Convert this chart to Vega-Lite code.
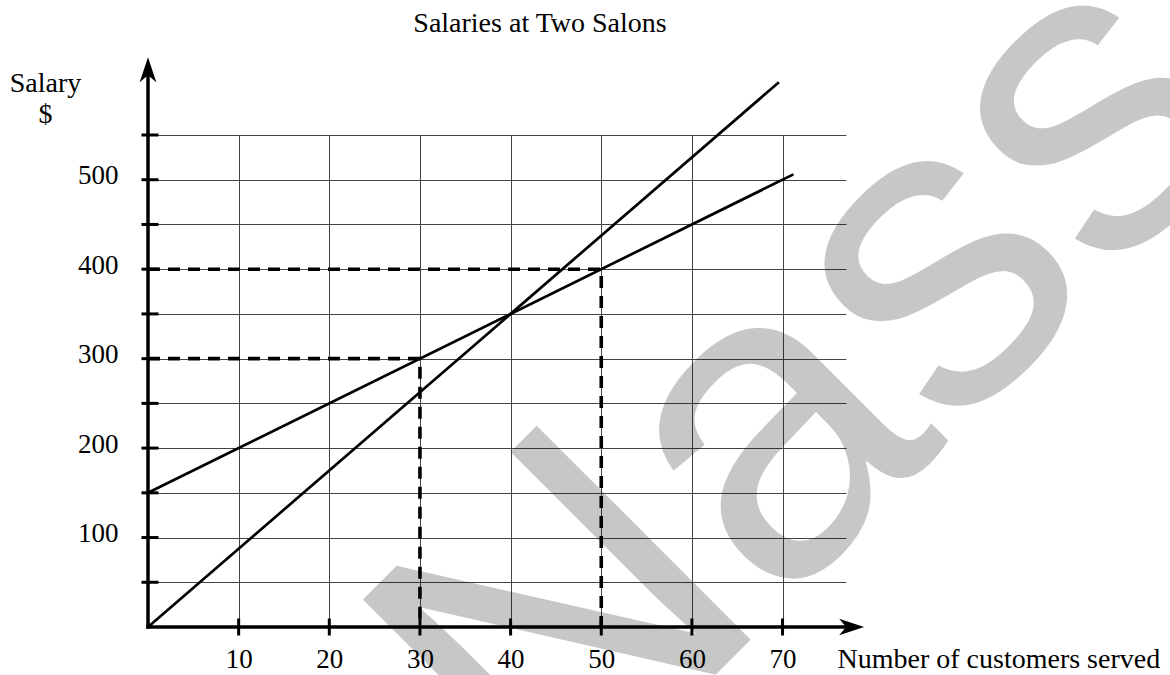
{
  "$schema": "https://vega.github.io/schema/vega-lite/v6.json",
  "width": 698,
  "height": 492,
  "autosize": "none",
  "padding": {"left": 148, "top": 135, "right": 324, "bottom": 48},
  "background": "white",
  "config": {"view": {"stroke": null}, "font": "Liberation Serif"},
  "title": {"text": "Salaries at Two Salons", "font": "Liberation Serif", "fontSize": 28, "fontWeight": "normal", "color": "black", "anchor": "middle", "frame": "group", "dx": 43, "baseline": "alphabetic", "offset": -179},
  "datasets": {
    "lines": [
      {"salon": "A", "customers": 0, "salary": 150},
      {"salon": "A", "customers": 71.2, "salary": 506},
      {"salon": "B", "customers": 0, "salary": 0},
      {"salon": "B", "customers": 69.6, "salary": 609}
    ],
    "guides": [
      {"g": "g300", "i": 1, "customers": 0, "salary": 300},
      {"g": "g300", "i": 2, "customers": 30, "salary": 300},
      {"g": "g300", "i": 3, "customers": 30, "salary": 0},
      {"g": "g400", "i": 1, "customers": 0, "salary": 400},
      {"g": "g400", "i": 2, "customers": 50, "salary": 400},
      {"g": "g400", "i": 3, "customers": 50, "salary": 0}
    ],
    "axislines": [
      {"customers": 0, "salary": 0, "customers2": 0, "salary2": 617},
      {"customers": 0, "salary": 0, "customers2": 77, "salary2": 0}
    ],
    "yticks": [
      {"customers": 0, "salary": 50}, {"customers": 0, "salary": 100}, {"customers": 0, "salary": 150},
      {"customers": 0, "salary": 200}, {"customers": 0, "salary": 250}, {"customers": 0, "salary": 300},
      {"customers": 0, "salary": 350}, {"customers": 0, "salary": 400}, {"customers": 0, "salary": 450},
      {"customers": 0, "salary": 500}, {"customers": 0, "salary": 550}
    ],
    "xticks": [
      {"customers": 10, "salary": 0}, {"customers": 20, "salary": 0}, {"customers": 30, "salary": 0},
      {"customers": 40, "salary": 0}, {"customers": 50, "salary": 0}, {"customers": 60, "salary": 0},
      {"customers": 70, "salary": 0}
    ],
    "arrows": [
      {"dir": "up", "customers": 0, "salary": 637},
      {"dir": "right", "customers": 79, "salary": 0}
    ],
    "watermark": [
      {"label": "Nass", "customers": 44.5, "salary": -237}
    ]
  },
  "layer": [
    {
      "data": {"name": "lines"},
      "mark": {"type": "line", "color": "black", "strokeWidth": 2.7},
      "encoding": {
        "x": {
          "field": "customers", "type": "quantitative",
          "scale": {"domain": [0, 77], "nice": false, "zero": false},
          "axis": {
            "title": "Number of customers served",
            "values": [10, 20, 30, 40, 50, 60, 70],
            "grid": true, "gridColor": "#444", "gridWidth": 1,
            "domain": false, "ticks": false,
            "labelFont": "Liberation Serif", "labelFontSize": 27, "labelColor": "black",
            "labelBaseline": "alphabetic", "labelPadding": 40, "labelFlush": false, "labelOverlap": false,
            "titleFont": "Liberation Serif", "titleFontSize": 28, "titleFontWeight": "normal", "titleColor": "black",
            "titleX": 689, "titleY": 40, "titleAlign": "left", "titleBaseline": "alphabetic"
          }
        },
        "y": {
          "field": "salary", "type": "quantitative",
          "scale": {"domain": [0, 550], "nice": false, "zero": false},
          "axis": {
            "title": ["Salary", "$"],
            "values": [50, 100, 150, 200, 250, 300, 350, 400, 450, 500, 550],
            "labelExpr": "datum.value % 100 === 0 ? datum.label : ''",
            "grid": true, "gridColor": "#444", "gridWidth": 1,
            "domain": false, "ticks": false,
            "labelFont": "Liberation Serif", "labelFontSize": 27, "labelColor": "black",
            "labelAlign": "right", "labelBaseline": "alphabetic", "labelPadding": 30, "labelOffset": 4,
            "labelFlush": false, "labelOverlap": false,
            "titleFont": "Liberation Serif", "titleFontSize": 28, "titleFontWeight": "normal", "titleColor": "black",
            "titleAngle": 0, "titleX": -103, "titleY": -44, "titleAlign": "center", "titleBaseline": "alphabetic",
            "titleLineHeight": 31
          }
        },
        "detail": {"field": "salon"}
      }
    },
    {
      "data": {"name": "guides"},
      "mark": {"type": "line", "color": "black", "strokeWidth": 3.6, "strokeDash": [12, 8]},
      "encoding": {
        "x": {"field": "customers", "type": "quantitative"},
        "y": {"field": "salary", "type": "quantitative"},
        "detail": {"field": "g"},
        "order": {"field": "i"}
      }
    },
    {
      "data": {"name": "axislines"},
      "mark": {"type": "rule", "color": "black", "strokeWidth": 3.5, "strokeCap": "square"},
      "encoding": {
        "x": {"field": "customers", "type": "quantitative"},
        "y": {"field": "salary", "type": "quantitative"},
        "x2": {"field": "customers2"},
        "y2": {"field": "salary2"}
      }
    },
    {
      "data": {"name": "yticks"},
      "mark": {"type": "tick", "orient": "horizontal", "size": 17, "thickness": 3, "color": "black", "opacity": 1, "xOffset": 2},
      "encoding": {
        "x": {"field": "customers", "type": "quantitative"},
        "y": {"field": "salary", "type": "quantitative"}
      }
    },
    {
      "data": {"name": "xticks"},
      "mark": {"type": "tick", "orient": "vertical", "size": 17, "thickness": 3, "color": "black", "opacity": 1},
      "encoding": {
        "x": {"field": "customers", "type": "quantitative"},
        "y": {"field": "salary", "type": "quantitative"}
      }
    },
    {
      "data": {"name": "arrows"},
      "mark": {"type": "point", "filled": true, "color": "black", "opacity": 1, "size": 772, "strokeWidth": 0},
      "encoding": {
        "x": {"field": "customers", "type": "quantitative"},
        "y": {"field": "salary", "type": "quantitative"},
        "shape": {
          "field": "dir", "type": "nominal", "legend": null,
          "scale": {"domain": ["up", "right"], "range": ["M0,0L0.6,1.8L0,1.3L-0.6,1.8Z", "M0,0L-1.8,-0.6L-1.3,0L-1.8,0.6Z"]}
        }
      }
    },
    {
      "data": {"name": "watermark"},
      "mark": {"type": "text", "font": "Liberation Sans", "fontSize": 440, "angle": -45, "align": "left", "baseline": "alphabetic", "color": "black", "opacity": 0.216},
      "encoding": {
        "x": {"field": "customers", "type": "quantitative"},
        "y": {"field": "salary", "type": "quantitative"},
        "text": {"field": "label"}
      }
    }
  ]
}
